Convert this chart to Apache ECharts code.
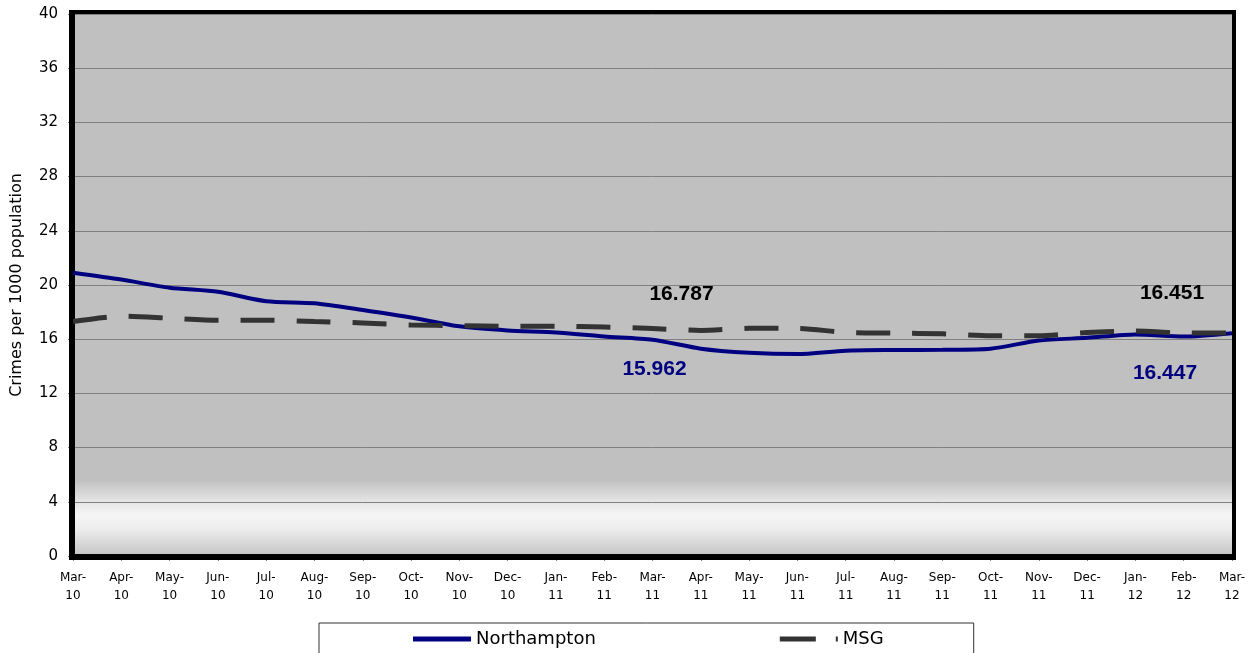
<!DOCTYPE html>
<html>
<head>
<meta charset="utf-8">
<script src="https://cdn.jsdelivr.net/npm/echarts@6/dist/echarts.min.js"></script>
<style>html,body{margin:0;padding:0;background:#fff;}#c{width:1252px;height:653px;}</style>
</head>
<body>
<div id="c"></div>
<script>
var categories = ["Mar-10","Apr-10","May-10","Jun-10","Jul-10","Aug-10","Sep-10","Oct-10","Nov-10","Dec-10","Jan-11","Feb-11","Mar-11","Apr-11","May-11","Jun-11","Jul-11","Aug-11","Sep-11","Oct-11","Nov-11","Dec-11","Jan-12","Feb-12","Mar-12"];
var northampton = [20.9,20.4,19.8,19.5,18.8,18.65,18.15,17.6,16.95,16.65,16.5,16.2,15.962,15.3,15.0,14.9,15.15,15.2,15.22,15.3,15.9,16.1,16.35,16.2,16.447];
var msg = [17.3,17.7,17.55,17.4,17.4,17.3,17.2,17.05,17.0,16.95,16.95,16.9,16.787,16.65,16.8,16.8,16.5,16.45,16.4,16.25,16.25,16.5,16.6,16.45,16.451];
var yTicks = [0,4,8,12,16,20,24,28,32,36,40];
var labelledIdx = [12, 24];

var FONT = "'DejaVu Sans',sans-serif";
var nLabelOffsets = {12:[2,29], 24:[-67,40]};
var mLabelOffsets = {12:[29,-34], 24:[-60,-40]};

function build(arr, offsets, color){
  return arr.map(function(v,i){
    if (labelledIdx.indexOf(i) >= 0) {
      return {value: v, label: {show: true, position: 'inside', offset: offsets[i], color: color,
        fontFamily: 'Liberation Sans, Arial, sans-serif', fontWeight: 'bold', fontSize: 21,
        formatter: function(p){ return String(p.value); }}};
    }
    return v;
  });
}

var chart = echarts.init(document.getElementById('c'), null, {renderer:'canvas'});
chart.setOption({
  animation: false,
  backgroundColor: '#ffffff',
  grid: {
    left: 73, right: 20, top: 14, bottom: 97,
    outerBoundsMode: 'none',
    containLabel: false,
    show: true,
    borderColor: '#000', borderWidth: 0,
    backgroundColor: {
      type: 'linear', x: 0, y: 0, x2: 0, y2: 1,
      colorStops: [
        {offset: 0, color: '#c0c0c0'},
        {offset: 0.86, color: '#c0c0c0'},
        {offset: 0.90, color: '#e6e6e6'},
        {offset: 0.925, color: '#f5f5f5'},
        {offset: 0.95, color: '#ededed'},
        {offset: 1, color: '#c4c4c4'}
      ]
    }
  },
  xAxis: {
    type: 'category',
    data: categories,
    boundaryGap: false,
    axisLine: {show: true, lineStyle: {color: '#000', width: 4}},
    axisTick: {show: true, alignWithLabel: true, length: 5, lineStyle: {color: '#808080', width: 1}},
    axisLabel: {
      interval: 0, color: '#000', fontFamily: FONT, fontSize: 12, lineHeight: 18, margin: 13,
      formatter: function(v){ var p = v.split('-'); return p[0] + '-\n' + p[1]; }
    },
    splitLine: {show: false}
  },
  yAxis: [{
    type: 'value',
    min: yTicks[0], max: yTicks[yTicks.length-1], interval: 4,
    name: 'Crimes per 1000 population',
    nameLocation: 'middle', nameGap: 48,
    nameTextStyle: {fontFamily: FONT, fontSize: 16, color: '#000'},
    axisLine: {show: true, lineStyle: {color: '#000', width: 4}},
    axisTick: {show: true, length: 5, lineStyle: {color: '#808080', width: 1}},
    axisLabel: {color: '#000', fontFamily: FONT, fontSize: 15, margin: 15},
    splitLine: {show: true, lineStyle: {color: '#808080', width: 1}}
  }],
  graphic: [
    {type: 'rect', shape: {x: 71, y: 12, width: 1163, height: 546}, style: {fill: 'none', stroke: '#000', lineWidth: 4}, z: 100, silent: true}
  ],
  legend: {
    left: 319, top: 623,
    padding: [7, 90, 14, 94],
    itemGap: 184, itemWidth: 58, itemHeight: 5,
    borderColor: '#333', borderWidth: 1, borderRadius: 0,
    backgroundColor: '#fff',
    textStyle: {fontFamily: FONT, fontSize: 18, color: '#000', padding: [0,0,0,0]},
    data: [
      {name: 'Northampton', icon: 'path://M0,0h58v5h-58z'},
      {name: 'MSG', icon: 'path://M0,0h36v5h-36zM56,0h2v5h-2z'}
    ]
  },
  series: [
    {
      name: 'Northampton', type: 'line', smooth: 0.25, symbol: 'circle', symbolSize: 0.01,
      data: build(northampton, nLabelOffsets, '#000080'),
      lineStyle: {color: '#000080', width: 4},
      itemStyle: {color: '#000080'},
      z: 3
    },
    {
      name: 'MSG', type: 'line', smooth: 0.25, symbol: 'circle', symbolSize: 0.01,
      data: build(msg, mLabelOffsets, '#000'),
      lineStyle: {color: '#333333', width: 5, type: [34, 22]},
      itemStyle: {color: '#333333'},
      z: 4
    }
  ]
});
</script>
</body>
</html>
